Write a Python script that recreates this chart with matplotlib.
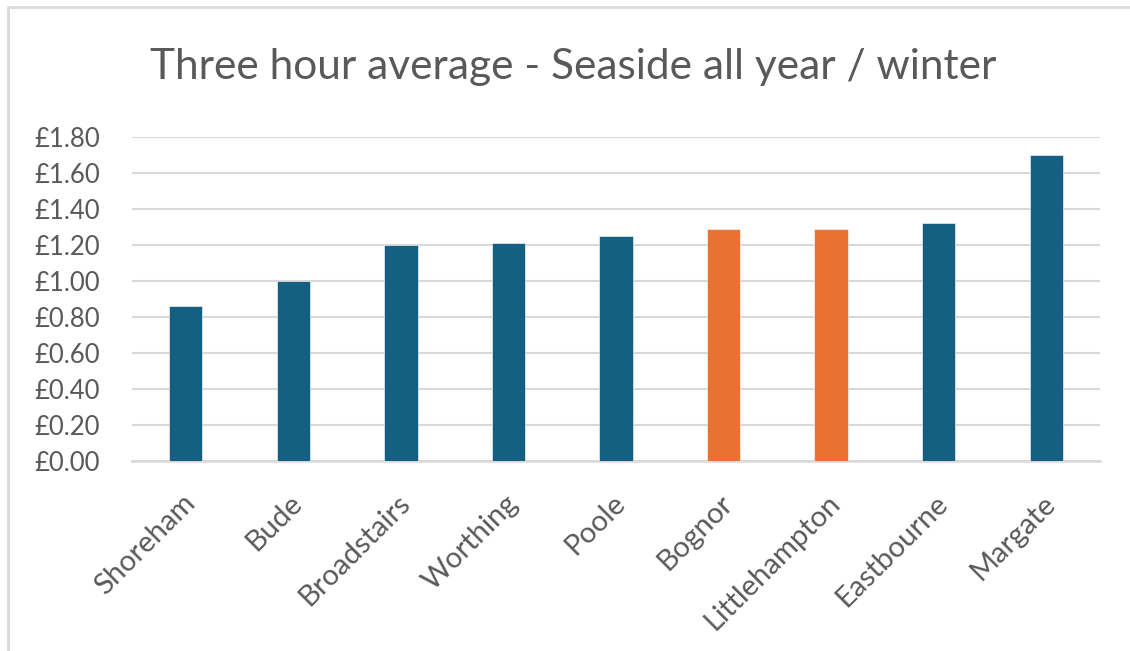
import matplotlib.pyplot as plt
import matplotlib.transforms as mtransforms
from matplotlib.lines import Line2D

plt.rcParams['font.family'] = ['Lato', 'DejaVu Sans']

# Three hour parking average per town
towns = ['Shoreham', 'Bude', 'Broadstairs', 'Worthing', 'Poole',
         'Bognor', 'Littlehampton', 'Eastbourne', 'Margate']
prices = [0.86, 1.00, 1.20, 1.21, 1.25, 1.29, 1.29, 1.32, 1.70]
highlight = ['Bognor', 'Littlehampton']

blue = '#156082'
orange = '#E97132'
grey_text = '#595959'
grid_grey = '#d9d9d9'

colors = [orange if t in highlight else blue for t in towns]

fig = plt.figure(figsize=(11.3, 6.51), dpi=100)
ax = fig.add_axes([0.1168, 0.2919, 0.8567, 0.4977])

x = range(len(towns))
ax.bar(x, prices, width=0.31, color=colors, edgecolor='white', linewidth=0.4, zorder=3)

ax.set_xlim(-0.5, len(towns) - 0.5)
ax.set_ylim(0, 1.8)
ticks = [i * 0.2 for i in range(10)]
ax.set_yticks(ticks)
ax.set_yticklabels(['£{:.2f}'.format(t) for t in ticks])
ax.yaxis.grid(True, color=grid_grey, linewidth=1.5, zorder=0)
ax.set_axisbelow(True)

for side in ['top', 'right', 'left']:
    ax.spines[side].set_visible(False)
ax.spines['bottom'].set_color(grid_grey)
ax.spines['bottom'].set_linewidth(1.8)

ax.set_xticks(list(x))
ax.set_xticklabels(towns, rotation=45, ha='right', rotation_mode='anchor')
ax.tick_params(axis='both', length=0, colors=grey_text)
ax.tick_params(axis='y', pad=23, labelsize=18.5)
ax.tick_params(axis='x', pad=21, labelsize=21)

# nudge the slanted town names a little to the left
shift = mtransforms.ScaledTranslation(-0.04, 0, fig.dpi_scale_trans)
for lbl in ax.get_xticklabels():
    lbl.set_transform(lbl.get_transform() + shift)

fig.text(0.507, 1 - 79 / 651, 'Three hour average - Seaside all year / winter',
         ha='center', va='baseline', fontsize=30.5, color=grey_text)

# frame edges along the top and left of the chart
fig.lines.append(Line2D([8 / 1130, 8 / 1130, 1.0], [0.0, 1 - 7 / 651, 1 - 7 / 651],
                        transform=fig.transFigure, color=grid_grey, linewidth=2))

fig.savefig('out.png', dpi=100)
